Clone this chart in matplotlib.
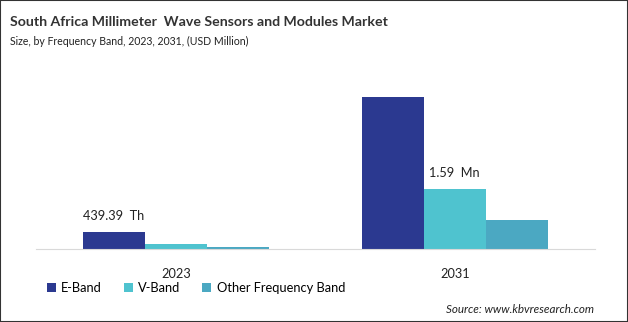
import matplotlib
matplotlib.use("Agg")
import matplotlib.pyplot as plt
import numpy as np

plt.rcParams['font.family'] = ['Lato', 'DejaVu Sans']

years = ['2023', '2031']
series = ['E-Band', 'V-Band', 'Other Frequency Band']
e_band = [0.43939, 4.02]
v_band = [0.13, 1.59]
other_band = [0.045, 0.765]
colors = ['#2B3990', '#4FC3CF', '#4BA8C2']

fig = plt.figure(figsize=(6.28, 3.22), dpi=100)
ax = fig.add_axes([0.057, 0.2267, 0.890, 0.587])

x = np.arange(len(years))
w = 0.222
for i, (vals, name) in enumerate(zip([e_band, v_band, other_band], series)):
    ax.bar(x + (i - 1) * w, vals, w, color=colors[i], label=name)

# value labels
ax.text(x[0] - w, e_band[0] + 0.42, '439.39  Th', ha='center', va='center', fontsize=9.2, color='#222222')
ax.text(x[1], v_band[1] + 0.42, '1.59  Mn', ha='center', va='center', fontsize=9.2, color='#222222')

ax.set_xlim(-0.502, 1.502)
ax.set_ylim(0, 4.99)
ax.set_xticks(x)
ax.set_xticklabels(years, fontsize=9.2, color='#222222')
ax.tick_params(axis='x', length=0, pad=14)
ax.set_yticks([])
for s in ['top', 'right', 'left']:
    ax.spines[s].set_visible(False)
ax.spines['bottom'].set_color('#D9D9D9')

ax.legend(loc='upper left', bbox_to_anchor=(0.02, -0.175), ncol=3, frameon=False,
          fontsize=9.3, handlelength=0.7, handleheight=0.7, handletextpad=0.4,
          columnspacing=1.7, borderaxespad=0, borderpad=0)

fig.text(0.016, 0.932, 'South Africa Millimeter  Wave Sensors and Modules Market',
         fontsize=10.2, fontweight='bold', color='#333333', va='center')
fig.text(0.016, 0.872, 'Size, by Frequency Band, 2023, 2031, (USD Million)',
         fontsize=7.6, color='#222222', va='center')
fig.text(0.946, 0.04, 'Source: www.kbvresearch.com', fontsize=8.4, style='italic',
         color='#222222', ha='right', va='center')

fig.patches.append(plt.Rectangle((0, 0), 1, 1, transform=fig.transFigure, fill=False,
                                 edgecolor='#333333', linewidth=1.5))

fig.savefig('out.png', dpi=100)
